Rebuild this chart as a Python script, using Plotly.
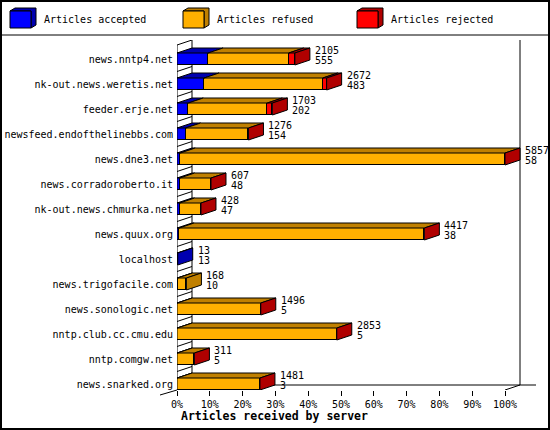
import plotly.graph_objects as go

# data
servers = [
    "news.nntp4.net", "nk-out.news.weretis.net", "feeder.erje.net",
    "newsfeed.endofthelinebbs.com", "news.dne3.net", "news.corradoroberto.it",
    "nk-out.news.chmurka.net", "news.quux.org", "localhost",
    "news.trigofacile.com", "news.sonologic.net", "nntp.club.cc.cmu.edu",
    "nntp.comgw.net", "news.snarked.org",
]
received = [2105, 2672, 1703, 1276, 5857, 607, 428, 4417, 13, 168, 1496, 2853, 311, 1481]
accepted = [555, 483, 202, 154, 58, 48, 47, 38, 13, 10, 5, 5, 5, 3]
rejected = [110, 70, 90, 0, 0, 0, 0, 0, None, None, 0, 0, 0, 0]
series = ["Articles accepted", "Articles refused", "Articles rejected"]
pct_ticks = [0, 10, 20, 30, 40, 50, 60, 70, 80, 90, 100]

refused = [r - a - (j or 0) for r, a, j in zip(received, accepted, rejected)]

front = ["#0000ff", "#ffb000", "#ff0000"]
dark = ["#0000b0", "#c08000", "#b00000"]

# pixel geometry of the plot area
W, H = 550, 430
L, R, T, B = 177, 536, 40, 390
PX = 3.28          # px per percent
XMAX = (R - L) / PX
DX = 15 / PX        # depth in x (percent units)
DY = -0.2           # depth in y (row units)
BW = 0.48
YR = [13.24, -0.76]

scale = 100.0 / max(received)
n = len(servers)
ys = list(range(n))
segs = [[v * scale for v in accepted], [v * scale for v in refused],
        [(v or 0) * scale for v in rejected]]


def xp(px):
    return (px - L) / (R - L)


def yp(py):
    return (B - py) / (B - T)


fig = go.Figure()
for k in range(3):
    fig.add_trace(go.Bar(
        y=ys, x=segs[k], orientation="h", name=series[k], width=BW,
        marker=dict(color=front[k], line=dict(color="black", width=1)),
        showlegend=False, hoverinfo="skip",
    ))

shapes = []
# back wall and floor lines
line = dict(color="black", width=1)
shapes.append(dict(type="line", xref="x", yref="y", x0=DX, x1=DX, y0=YR[1], y1=YR[0] + DY, line=line, layer="below"))
shapes.append(dict(type="line", xref="x", yref="y", x0=100 + DX, x1=100 + DX, y0=YR[1], y1=YR[0] + DY, line=line, layer="below"))
shapes.append(dict(type="line", xref="x", yref="y", x0=DX, x1=XMAX, y0=YR[0] + DY, y1=YR[0] + DY, line=line, layer="below"))
shapes.append(dict(type="line", xref="x", yref="y", x0=100, x1=100 + DX, y0=YR[0], y1=YR[0] + DY, line=line, layer="below"))
shapes.append(dict(type="line", xref="x", yref="y", x0=0, x1=0, y0=YR[1] - DY, y1=YR[0], line=line, layer="above"))
for b in [-0.56] + [i + 0.5 for i in range(n - 1)]:
    shapes.append(dict(type="line", xref="x", yref="y", x0=0, x1=DX, y0=b, y1=b + DY, line=line, layer="below"))
shapes.append(dict(type="line", xref="paper", yref="paper", x0=xp(160), x1=xp(177), y0=yp(395), y1=yp(390), line=line))

# 3d top and side faces of bars
for i in ys:
    yt = i - BW / 2
    yb = i + BW / 2
    x0 = 0
    last = 0
    for k in range(3):
        w = segs[k][i]
        if w > 0:
            x1 = x0 + w
            shapes.append(dict(
                type="path", xref="x", yref="y",
                path=f"M{x0},{yt} L{x1},{yt} L{x1 + DX},{yt + DY} L{x0 + DX},{yt + DY} Z",
                fillcolor=dark[k], line=line, layer="above"))
            x0 = x1
            last = k
    if rejected[i] is not None:
        last = 2
    shapes.append(dict(
        type="path", xref="x", yref="y",
        path=f"M{x0},{yt} L{x0 + DX},{yt + DY} L{x0 + DX},{yb + DY} L{x0},{yb} Z",
        fillcolor=dark[last], line=line, layer="above"))

# frame and legend separator
shapes.append(dict(type="rect", xref="paper", yref="paper", x0=xp(1), x1=xp(549), y0=yp(1), y1=yp(429),
                   line=dict(color="black", width=2)))
shapes.append(dict(type="line", xref="paper", yref="paper", x0=xp(0), x1=xp(550), y0=yp(35), y1=yp(35), line=line))

font = dict(family="DejaVu Sans Mono", size=10, color="black")
annotations = []
for i in ys:
    xe = received[i] * scale + DX
    annotations.append(dict(x=xe, y=i - 0.36, xref="x", yref="y", text=str(received[i]),
                            showarrow=False, xanchor="left", xshift=3, font=font))
    annotations.append(dict(x=xe, y=i + 0.07, xref="x", yref="y", text=str(accepted[i]),
                            showarrow=False, xanchor="left", xshift=3, font=font))

# legend drawn by hand with 3d boxes
for k, bx in enumerate([10, 183, 357]):
    shapes.append(dict(type="path", xref="paper", yref="paper",
                       path=f"M{xp(bx)},{yp(11)} L{xp(bx + 5)},{yp(8)} L{xp(bx + 26)},{yp(8)} L{xp(bx + 26)},{yp(25)} L{xp(bx + 21)},{yp(28)} L{xp(bx + 21)},{yp(11)} Z",
                       fillcolor=dark[k], line=line))
    shapes.append(dict(type="rect", xref="paper", yref="paper", x0=xp(bx), x1=xp(bx + 21), y0=yp(11), y1=yp(28),
                       fillcolor=front[k], line=line))
    annotations.append(dict(x=xp(bx + 32), y=yp(20), xref="paper", yref="paper", text=series[k],
                            showarrow=False, xanchor="left", yanchor="middle", font=font))

annotations.append(dict(x=xp(179), y=yp(416), xref="paper", yref="paper", text="<b>Articles received by server</b>",
                        showarrow=False, xanchor="left", yanchor="middle",
                        font=dict(family="DejaVu Sans Mono", size=11.5, color="black")))

fig.update_layout(
    width=W, height=H, autosize=False,
    margin=dict(l=L, r=W - R, t=T, b=H - B, pad=0),
    barmode="stack", bargap=0,
    paper_bgcolor="white", plot_bgcolor="white",
    shapes=shapes, annotations=annotations,
    xaxis=dict(range=[0, XMAX], tickvals=pct_ticks, ticktext=[f"{t}%" for t in pct_ticks],
               ticks="outside", ticklen=5, tickcolor="black", showgrid=False, zeroline=False,
               showline=False, tickfont=font, fixedrange=True, automargin=False),
    yaxis=dict(range=YR, tickvals=ys, ticktext=servers, ticks="", showgrid=False, zeroline=False,
               showline=False, tickfont=font, ticklabelstandoff=3, fixedrange=True, automargin=False),
)

# drop the page's default body margin so the 550x430 figure fills the window
fig.write_html("out.html", config={"displayModeBar": False},
               post_script="document.body.style.margin='0px';")
